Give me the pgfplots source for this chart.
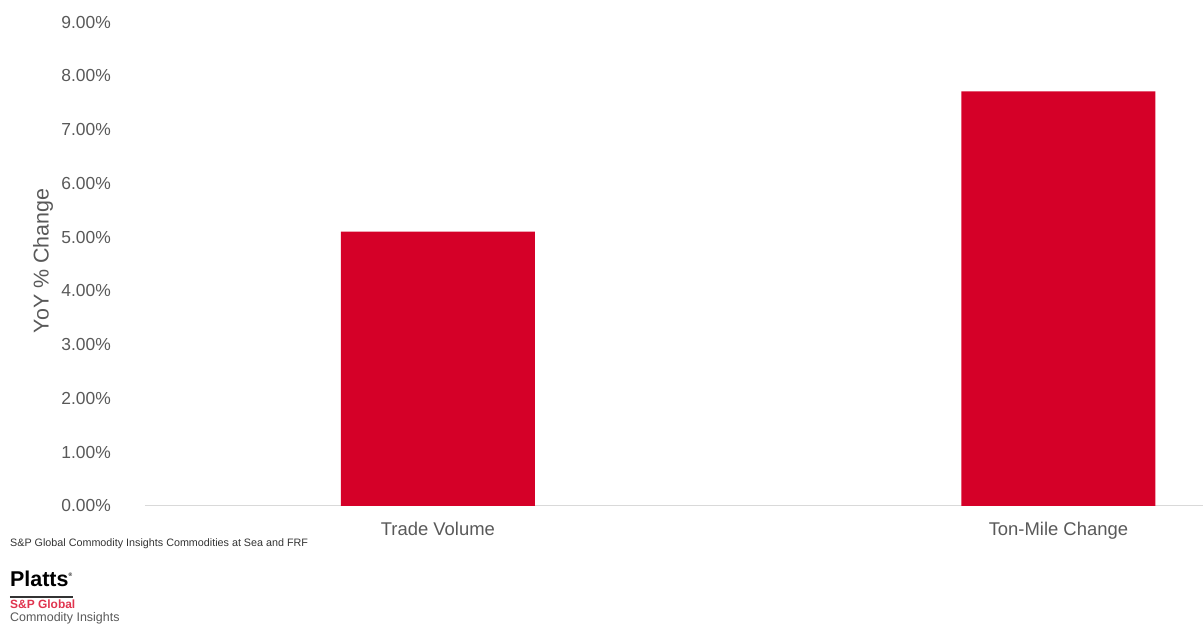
\documentclass[border=0pt]{standalone}
\usepackage{pgfplots}
\pgfplotsset{compat=1.18}
\usepackage{fontspec}
\setmainfont{Liberation Sans}
\definecolor{barred}{HTML}{D50028}
\definecolor{txtgray}{HTML}{595959}
\definecolor{axgray}{HTML}{D9D9D9}
\definecolor{logored}{HTML}{E0344E}
\begin{document}
\begin{tikzpicture}[x=1bp,y=1bp]
\useasboundingbox (-145,-121) rectangle (1058,506);
\begin{axis}[
  at={(0,0)}, anchor=south west,
  scale only axis, width=1058bp, height=484bp,
  xmin=-0.472, xmax=1.233,
  ymin=0, ymax=9,
  axis x line*=bottom, axis y line*=left,
  x axis line style={draw=axgray, line width=1bp, -},
  y axis line style={draw=none, -},
  xtick={0,1}, xticklabels={Trade Volume, Ton-Mile Change},
  xtick style={draw=none},
  xticklabel style={font=\fontsize{18.5}{20}\selectfont, text=txtgray, inner sep=0pt, anchor=north, yshift=-16bp},
  ytick={0,1,...,9},
  ytick style={draw=none},
  yticklabel={\pgfmathprintnumber[fixed,fixed zerofill,precision=2]{\tick}\%},
  /pgf/number format/assume math mode=true,
  yticklabel style={font=\fontsize{17.5}{20}\selectfont, text=txtgray, inner sep=0pt, anchor=east, xshift=-34bp},
  clip=false,
]
\addplot[ybar, bar width=0.3127, fill=barred, draw=none] coordinates {(0,5.10) (1,7.71)};
\end{axis}
\node[rotate=90, text=txtgray, font=\fontsize{21.5}{24}\selectfont] at (-102,245) {YoY \% Change};
\node[anchor=west, inner sep=0pt, text=black!80, font=\fontsize{10.8}{12}\selectfont] at (-135,-38) {S\&P Global Commodity Insights Commodities at Sea and FRF};
\node[anchor=base west, inner sep=0pt, font=\fontsize{21.5}{24}\selectfont\bfseries] at (-135,-81) {Platts\raisebox{8bp}{\fontsize{5}{6}\selectfont\textsuperscript{\textregistered}}};
\draw[black!80, line width=1.6bp] (-135,-91) -- (-72,-91);
\node[anchor=base west, inner sep=0pt, text=logored, font=\fontsize{12}{14}\selectfont\bfseries] at (-135,-103) {S\&P Global};
\node[anchor=base west, inner sep=0pt, text=txtgray, font=\fontsize{12.5}{14}\selectfont] at (-135,-116) {Commodity Insights};
\end{tikzpicture}
\end{document}
